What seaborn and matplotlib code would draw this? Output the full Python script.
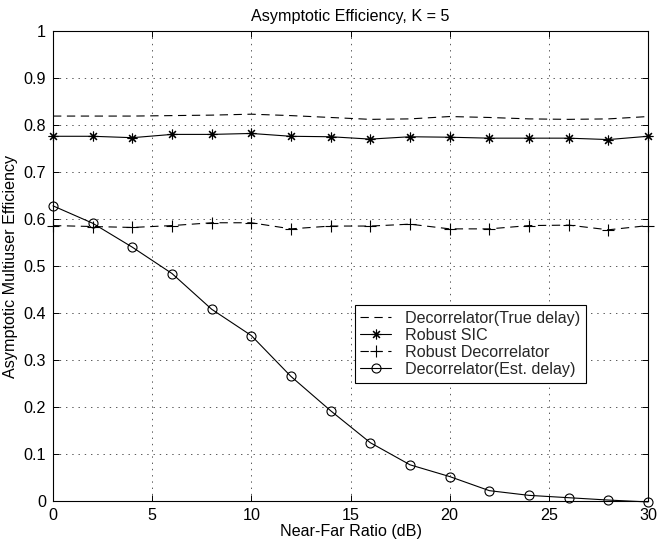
import numpy as np
import pandas as pd
import matplotlib
matplotlib.use("Agg")
import matplotlib.pyplot as plt
import seaborn as sns

# ---- data ----
near_far_db = [0, 2, 4, 6, 8, 10, 12, 14, 16, 18, 20, 22, 24, 26, 28, 30]
decor_true_delay = [0.819, 0.819, 0.819, 0.820, 0.821, 0.823, 0.820, 0.816,
                    0.812, 0.813, 0.818, 0.816, 0.813, 0.812, 0.813, 0.818]
robust_sic = [0.776, 0.776, 0.773, 0.780, 0.780, 0.782, 0.776, 0.775,
              0.770, 0.775, 0.774, 0.772, 0.772, 0.772, 0.769, 0.776]
robust_decor = [0.586, 0.584, 0.582, 0.586, 0.592, 0.592, 0.579, 0.585,
                0.585, 0.589, 0.579, 0.579, 0.586, 0.587, 0.577, 0.586]
decor_est_delay = [0.628, 0.591, 0.540, 0.484, 0.408, 0.352, 0.265, 0.192,
                   0.124, 0.077, 0.052, 0.022, 0.012, 0.007, 0.002, -0.002]
series_names = ["Decorrelator(True delay)", "Robust SIC",
                "Robust Decorrelator", "Decorrelator(Est. delay)"]
x_ticks = [0, 5, 10, 15, 20, 25, 30]
y_ticks = [0, 0.1, 0.2, 0.3, 0.4, 0.5, 0.6, 0.7, 0.8, 0.9, 1.0]
y_tick_labels = ["0", "0.1", "0.2", "0.3", "0.4", "0.5", "0.6", "0.7", "0.8", "0.9", "1"]
title = "Asymptotic Efficiency, K = 5"
x_label = "Near-Far Ratio (dB)"
y_label = "Asymptotic Multiuser Efficiency"

df = pd.DataFrame({
    "x": near_far_db * 4,
    "y": decor_true_delay + robust_sic + robust_decor + decor_est_delay,
    "series": sum([[n] * len(near_far_db) for n in series_names], []),
})

sns.set_theme(style="white")
plt.rcParams["font.family"] = ["Liberation Sans", "DejaVu Sans"]
plt.rcParams["lines.scale_dashes"] = False
FS = 11.6

fig = plt.figure(figsize=(6.57, 5.42), dpi=100)
ax = fig.add_axes([53 / 657, 41 / 542, 595 / 657, 470 / 542])

styles = {
    series_names[0]: dict(linestyle=(0, (6, 4)), marker=None),
    series_names[1]: dict(linestyle="-", marker=(8, 2, 0), markersize=7),
    series_names[2]: dict(linestyle=(0, (6, 4)), marker="+", markersize=8),
    series_names[3]: dict(linestyle="-", marker="o", markersize=6.5,
                          markerfacecolor="none"),
}

for name in series_names:
    sub = df[df["series"] == name]
    sns.lineplot(data=sub, x="x", y="y", ax=ax, color="black", linewidth=0.8,
                 markeredgecolor="black", markeredgewidth=0.8,
                 label=name, clip_on=False, zorder=3, **styles[name])

ax.set_xlim(0, 30)
ax.set_ylim(0, 1)
ax.set_xticks(x_ticks)
ax.set_xticklabels([str(t) for t in x_ticks], fontsize=FS)
ax.set_yticks(y_ticks)
ax.set_yticklabels(y_tick_labels, fontsize=FS)
ax.tick_params(direction="in", length=4.5, width=0.7, top=True, right=True,
               bottom=True, left=True, color="black", pad=5, labelcolor="black")
ax.grid(True, linestyle=(0, (1, 3.5)), color="0.3", linewidth=0.65)
for s in ax.spines.values():
    s.set_visible(True)
    s.set_color("black")
    s.set_linewidth(0.8)

ax.set_title(title, fontsize=FS, pad=7, color="black")
ax.set_xlabel(x_label, fontsize=FS, labelpad=1, color="black")
ax.set_ylabel(y_label, fontsize=FS, labelpad=4, color="black")

leg = ax.legend(loc="lower left", bbox_to_anchor=(0.507, 0.252),
                fontsize=FS, frameon=True, fancybox=False, framealpha=1,
                edgecolor="black", borderaxespad=0, borderpad=0.35,
                labelspacing=0.12, handlelength=1.9, handletextpad=0.9)
leg.get_frame().set_linewidth(0.8)

fig.savefig("out.png", dpi=100, facecolor="white")
